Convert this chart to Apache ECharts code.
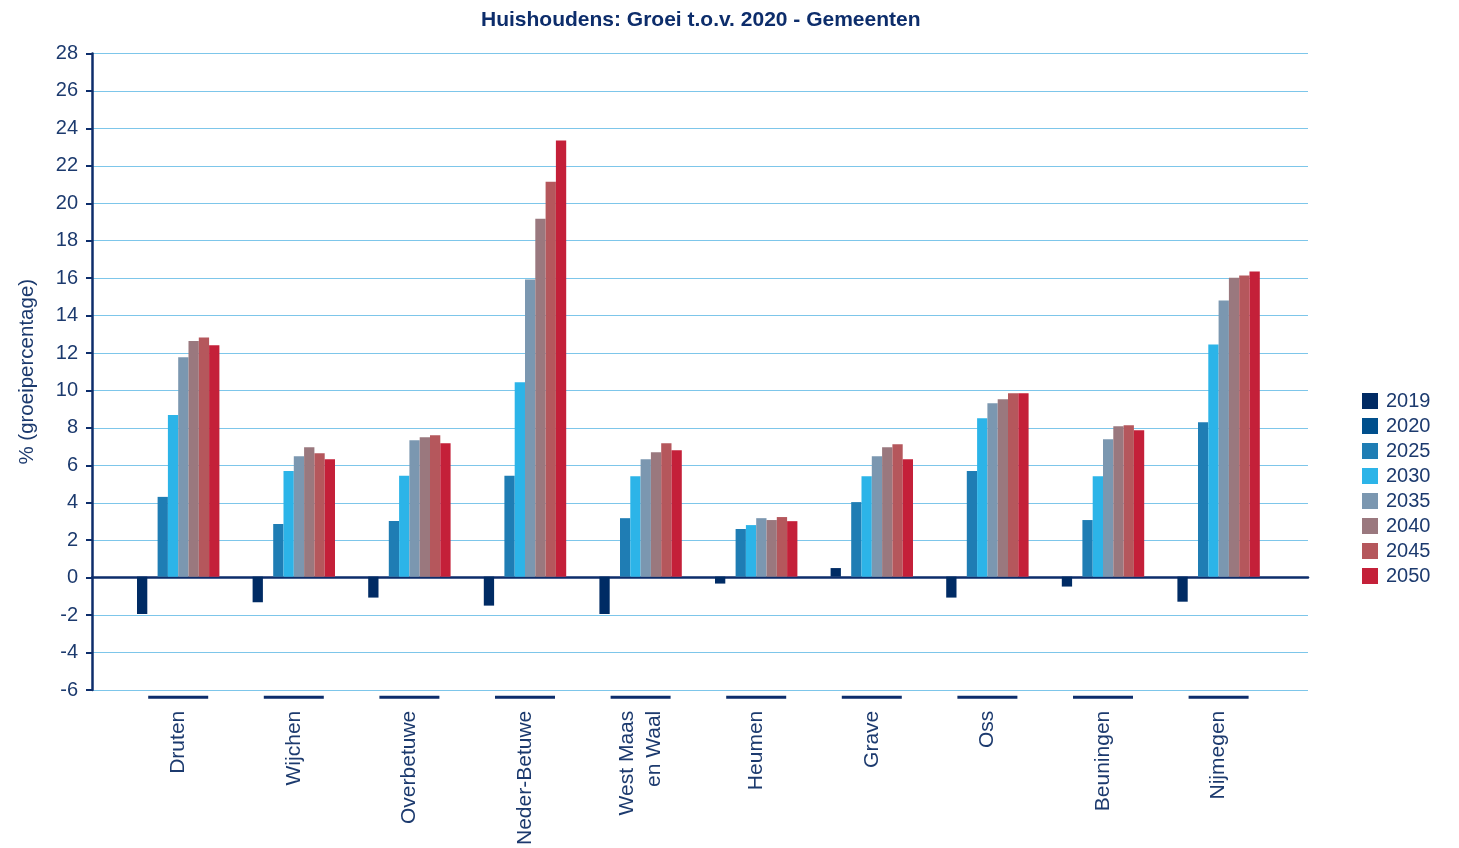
<!DOCTYPE html>
<html>
<head>
<meta charset="utf-8">
<script src="https://cdn.jsdelivr.net/npm/echarts@6/dist/echarts.min.js"></script>
<style>html,body{margin:0;padding:0;background:#fff}#c{width:1459px;height:848px}</style>
</head>
<body>
<div id="c"></div>
<script>
const categories = ['Druten','Wijchen','Overbetuwe','Neder-Betuwe','West Maas\nen Waal','Heumen','Grave','Oss','Beuningen','Nijmegen'];
const seriesNames = ['2019','2020','2025','2030','2035','2040','2045','2050'];
const v2019 = [-2.0, -1.37, -1.12, -1.55, -2.0, -0.37, 0.46, -1.12, -0.53, -1.34];
const v2020 = [0, 0, 0, 0, 0, 0, 0, 0, 0, 0];
const v2025 = [4.27, 2.82, 2.98, 5.4, 3.13, 2.55, 3.99, 5.65, 3.03, 8.26];
const v2030 = [8.65, 5.66, 5.4, 10.4, 5.38, 2.76, 5.38, 8.48, 5.38, 12.43];
const v2035 = [11.74, 6.45, 7.3, 15.9, 6.29, 3.13, 6.45, 9.28, 7.36, 14.78];
const v2040 = [12.61, 6.93, 7.46, 19.16, 6.66, 3.03, 6.93, 9.49, 8.05, 16.0];
const v2045 = [12.8, 6.61, 7.57, 21.14, 7.14, 3.19, 7.09, 9.81, 8.1, 16.12];
const v2050 = [12.38, 6.29, 7.14, 23.35, 6.77, 2.97, 6.29, 9.81, 7.84, 16.33];
const yTicks = {min: -6, max: 28, interval: 2};

const values = [v2019, v2020, v2025, v2030, v2035, v2040, v2045, v2050];
const colors = ['#002b64', '#004f8c', '#1f7db4', '#2cb4e8', '#7b97b0', '#9a787e', '#b5575c', '#c42039'];
const navy = '#1c3a6e';
const font = 'Liberation Sans, Arial';

const chart = echarts.init(document.getElementById('c'));
chart.setOption({
  animation: false,
  title: {
    text: 'Huishoudens: Groei t.o.v. 2020 - Gemeenten',
    left: 476, top: 5,
    textStyle: {fontFamily: 'Liberation Sans Narrow, Liberation Sans, Arial', fontWeight: 'bold', fontSize: 21, color: '#0d2d6b'}
  },
  legend: {
    orient: 'vertical', left: 1357, top: 386,
    itemWidth: 16, itemHeight: 16, itemGap: 5,
    icon: 'rect',
    textStyle: {fontFamily: font, fontSize: 20, color: navy, padding: [0, 0, 0, 3], lineHeight: 20},
    data: seriesNames
  },
  grid: [
    {left: 92, right: 151, top: 53.5, bottom: 158},
    {left: 120.4, right: 182.6, top: 53.5, bottom: 158}
  ],
  xAxis: [
    {gridIndex: 0, type: 'value', min: 0, max: 1,
      axisLine: {show: true, onZero: true, lineStyle: {color: '#0d2d6b', width: 2.5}},
      axisTick: {show: false}, axisLabel: {show: false}, splitLine: {show: false}},
    {gridIndex: 1, type: 'category', data: categories, position: 'bottom',
      axisLine: {show: false, onZero: false}, axisTick: {show: false},
      axisLabel: {rotate: 90, margin: 22, fontFamily: font, fontSize: 21, color: navy, lineHeight: 27, interval: 0}},
    {gridIndex: 1, type: 'category', data: categories, position: 'bottom',
      axisLine: {show: false, onZero: false}, axisTick: {show: false},
      axisLabel: {interval: 0, margin: 7, formatter: () => '{l| }',
        rich: {l: {width: 60, height: 3, lineHeight: 3, backgroundColor: '#0d2d6b', fontSize: 1}}}}
  ],
  yAxis: [
    {gridIndex: 0, type: 'value', min: yTicks.min, max: yTicks.max, interval: yTicks.interval,
      name: '% (groeipercentage)', nameLocation: 'middle', nameRotate: 90, nameGap: 54,
      nameTextStyle: {fontFamily: font, fontSize: 20.5, color: navy},
      axisLine: {show: true, lineStyle: {color: '#0d2d6b', width: 2.5}},
      axisTick: {show: true, length: 6, lineStyle: {color: '#0d2d6b', width: 2}},
      axisLabel: {fontFamily: font, fontSize: 20, color: navy, margin: 14},
      splitLine: {show: true, lineStyle: {color: '#7dc6ea', width: 1}}},
    {gridIndex: 1, type: 'value', min: yTicks.min, max: yTicks.max, interval: yTicks.interval, show: false,
      splitLine: {show: false}}
  ],
  series: seriesNames.map((n, i) => ({
    name: n, type: 'bar', xAxisIndex: 1, yAxisIndex: 1,
    data: values[i], barWidth: 10.3, barGap: '0%',
    itemStyle: {color: colors[i]}
  }))
});
</script>
</body>
</html>
